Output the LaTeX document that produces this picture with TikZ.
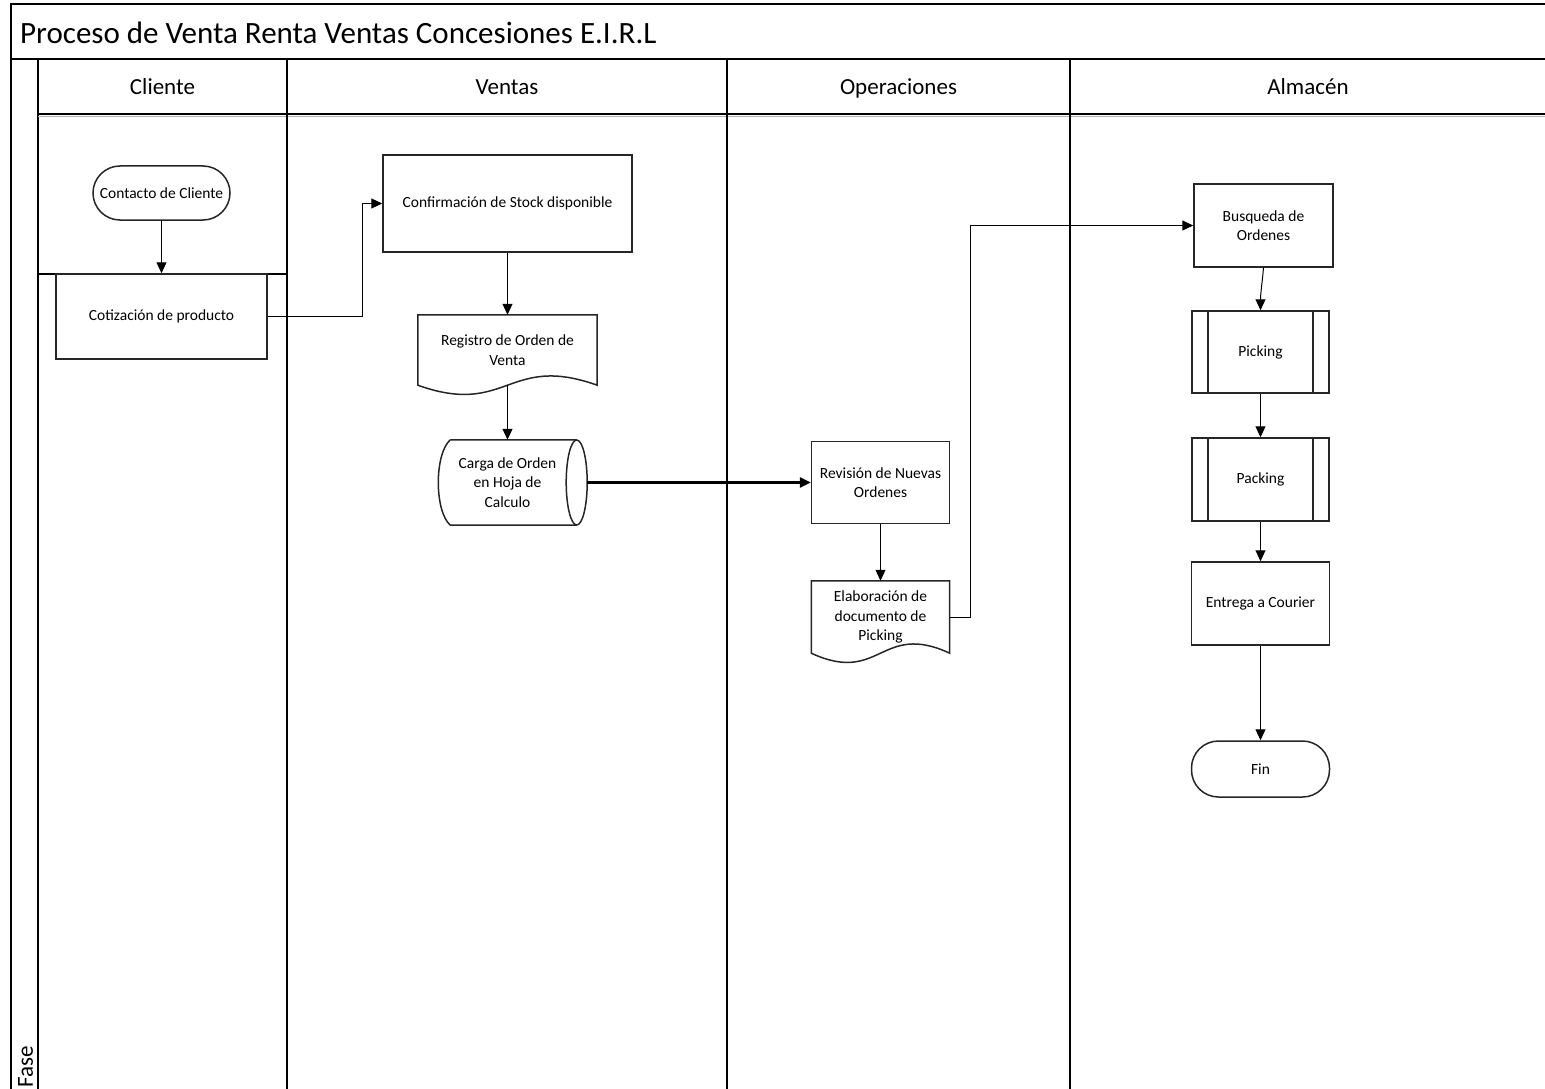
\documentclass[tikz,border=0pt]{standalone}
\usepackage{fontspec}
\setmainfont{Carlito}
\usetikzlibrary{arrows.meta}

\tikzset{
  carril/.style={line width=2pt},
  caja/.style={draw=black!85, line width=1.5pt, inner sep=0pt, align=center,
    font=\fontsize{15.5}{19.5}\selectfont},
  terminal/.style={caja, rounded corners=27pt},
  predef/.style={caja, path picture={
      \draw[line width=1.5pt, black!85]
        ([xshift=16pt]path picture bounding box.north west) -- ([xshift=16pt]path picture bounding box.south west)
        ([xshift=-16pt]path picture bounding box.north east) -- ([xshift=-16pt]path picture bounding box.south east);}},
  documento/.style={inner sep=0pt, align=center, font=\fontsize{15.5}{19.5}\selectfont},
  borde/.style={draw=black!85, line width=1.5pt},
  flecha/.style={line width=1pt, -{Triangle[length=11pt,width=10pt]}},
  cabecera/.style={anchor=base, font=\fontsize{23}{27}\selectfont},
}

\begin{document}
\begin{tikzpicture}[x=1pt, y=-1pt]
  \useasboundingbox (0,0) rectangle (1545,1089);

  % Marco y carriles
  \draw[carril] (1545,4) -- (11,4) -- (11,1089);
  \draw[carril] (11,59) -- (1545,59);
  \draw[carril] (38,59) -- (38,1089);
  \draw[carril] (38,114) -- (1545,114);
  \draw[gray!60, line width=1pt] (38,116.5) -- (1545,116.5);
  \draw[carril] (287,59) -- (287,1089);
  \draw[carril] (727,59) -- (727,1089);
  \draw[carril] (1070,59) -- (1070,1089);
  \draw[carril] (38,274) -- (287,274);

  % Titulo y cabeceras
  \node[anchor=base west, inner sep=0pt, font=\fontsize{31}{36}\selectfont] (titulo) at (20,44)
    {Proceso de Venta Renta Ventas Concesiones E.I.R.L};
  \node[cabecera] (hcliente) at (162.5,95) {Cliente};
  \node[cabecera] (hventas) at (507,95) {Ventas};
  \node[cabecera] (hoperaciones) at (898.5,95) {Operaciones};
  \node[cabecera] (halmacen) at (1308,95) {Almacén};
  \node[font=\fontsize{23}{27}\selectfont, rotate=90, anchor=west, inner sep=0pt] (fase) at (25.5,1088) {Fase};

  % Cliente
  \node[terminal, minimum width=137pt, minimum height=54pt] (contacto) at (161.5,193) {Contacto de Cliente};
  \node[caja, minimum width=211pt, minimum height=85pt] (cotizacion) at (161.5,316.5) {Cotización de producto};

  % Ventas
  \node[caja, minimum width=249pt, minimum height=97pt] (confirmacion) at (507.5,203.5) {Confirmación de Stock disponible};
  \node[documento, minimum width=179pt, minimum height=70pt] (registro) at (507.5,350) {Registro de Orden de\\Venta};
  \draw[borde] (registro.south west) .. controls +(89.5,32) and +(-89.5,-32) .. (registro.south east)
    -- (registro.north east) -- (registro.north west) -- cycle;
  \node[documento, minimum width=138pt, minimum height=85pt] (carga) at (507.5,482.5) {Carga de Orden\\en Hoja de\\Calculo};
  \draw[borde] ([xshift=12pt]carga.north west) .. controls +(-16,14) and +(-16,-14) .. ([xshift=12pt]carga.south west)
    -- (carga.south east) ([xshift=12pt]carga.north west) -- (carga.north east);
  \draw[borde] (carga.east) ellipse [x radius=10.5pt, y radius=42.5pt];

  % Operaciones
  \node[caja, minimum width=138pt, minimum height=82pt] (revision) at (880.5,482.5) {Revisión de Nuevas\\Ordenes};
  \node[documento, minimum width=138pt, minimum height=72pt] (elaboracion) at (880.5,617) {Elaboración de\\documento de\\Picking};
  \draw[borde] (elaboracion.south west) .. controls +(69,32) and +(-69,-32) .. (elaboracion.south east)
    -- (elaboracion.north east) -- (elaboracion.north west) -- cycle;

  % Almacen
  \node[caja, minimum width=139pt, minimum height=83pt] (busqueda) at (1263.5,225.5) {Busqueda de\\Ordenes};
  \node[predef, minimum width=137pt, minimum height=82pt] (picking) at (1260.5,352) {Picking};
  \node[predef, minimum width=137pt, minimum height=83pt] (packing) at (1260.5,479.5) {Packing};
  \node[caja, minimum width=138pt, minimum height=83pt] (entrega) at (1260.5,603.5) {Entrega a Courier};
  \node[terminal, minimum width=138pt, minimum height=56pt] (fin) at (1260.5,769) {Fin};

  % Conectores
  \draw[flecha] (contacto) -- (cotizacion);
  \draw[flecha] (cotizacion.east) -- ++(95,0) |- (confirmacion.west);
  \draw[flecha] (confirmacion) -- (registro);
  \draw[flecha] (registro.south) -- (carga.north);
  \draw[flecha, line width=2.6pt] ([xshift=10.5pt]carga.east) -- (revision.west);
  \draw[flecha] (revision) -- (elaboracion);
  \draw[flecha] (elaboracion.east) -- ++(21,0) |- (busqueda.west);
  \draw[flecha] (busqueda.south) to[out=265, in=90] (picking.north);
  \draw[flecha] (picking) -- (packing);
  \draw[flecha] (packing) -- (entrega);
  \draw[flecha] (entrega) -- (fin);
\end{tikzpicture}
\end{document}
